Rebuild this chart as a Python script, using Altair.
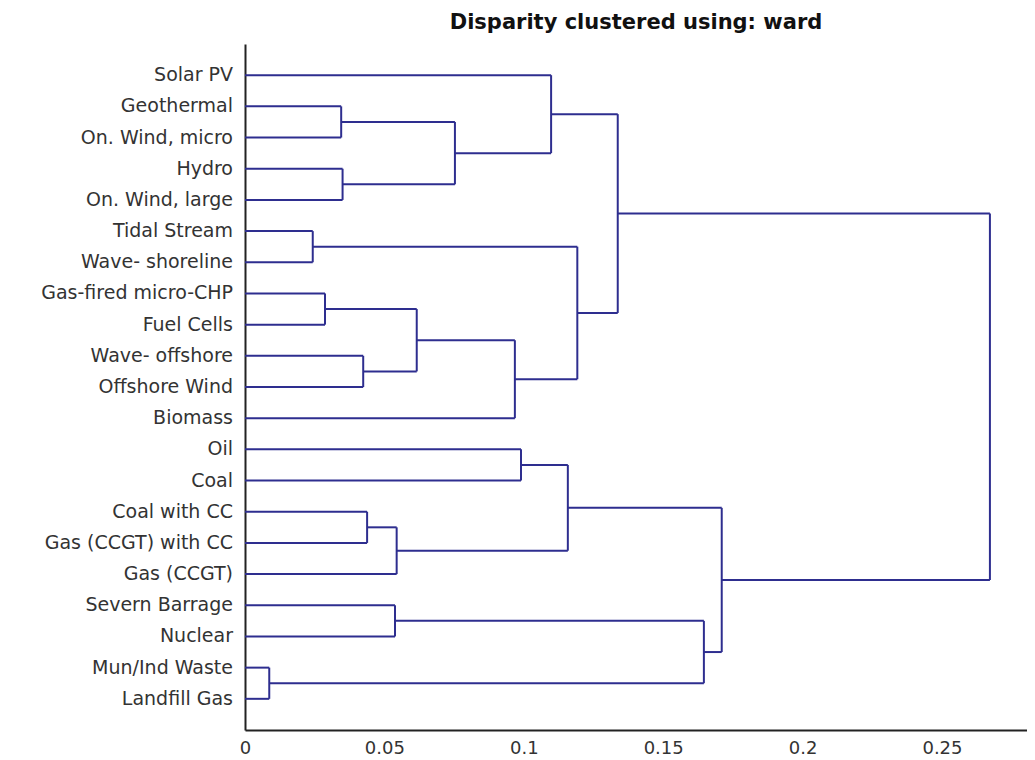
import altair as alt
import pandas as pd

# Leaves (top to bottom)
leaves = [
    "Solar PV", "Geothermal", "On. Wind, micro", "Hydro", "On. Wind, large",
    "Tidal Stream", "Wave- shoreline", "Gas-fired micro-CHP", "Fuel Cells",
    "Wave- offshore", "Offshore Wind", "Biomass", "Oil", "Coal", "Coal with CC",
    "Gas (CCGT) with CC", "Gas (CCGT)", "Severn Barrage", "Nuclear",
    "Mun/Ind Waste", "Landfill Gas",
]

# Node ids 0..20 are leaves, 21.. are merges in this order:
# 21 Geo+OnWm, 22 Hydro+OnWl, 23 21+22, 24 Solar+23, 25 Tidal+Wave, 26 Gas+Fuel,
# 27 WaveOff+OffWind, 28 26+27, 29 28+Biomass, 30 25+29, 31 24+30,
# 32 Oil+Coal, 33 CoalCC+GasCC, 34 33+GasCCGT, 35 32+34, 36 Severn+Nuclear,
# 37 Mun+Landfill, 38 36+37, 39 35+38, 40 31+39
merge_left = [1, 3, 21, 0, 5, 7, 9, 26, 28, 25, 24,
              12, 14, 33, 32, 17, 19, 36, 35, 31]
merge_right = [2, 4, 22, 23, 6, 8, 10, 27, 11, 29, 30,
               13, 15, 16, 34, 18, 20, 37, 38, 39]
merge_height = [0.0345, 0.0350, 0.0753, 0.1098, 0.0243, 0.0287, 0.0424, 0.0616,
                0.0968, 0.1192, 0.1337,
                0.0990, 0.0438, 0.0544, 0.1158, 0.0538, 0.0087, 0.1646, 0.1710,
                0.2672]

x_ticks = [0, 0.05, 0.1, 0.15, 0.2, 0.25]

n = len(leaves)
pos = {i: i + 1 for i in range(n)}
hgt = {i: 0.0 for i in range(n)}
segs = []
for k, (a, b, h) in enumerate(zip(merge_left, merge_right, merge_height)):
    nid = n + k
    pos[nid] = (pos[a] + pos[b]) / 2
    hgt[nid] = h
    segs.append({"x": h, "x2": h, "y": pos[a], "y2": pos[b]})
    for c in (a, b):
        segs.append({"x": hgt[c], "x2": h, "y": pos[c], "y2": pos[c]})

seg_df = pd.DataFrame(segs)
lab_df = pd.DataFrame({"name": leaves, "y": [pos[i] for i in range(n)]})

xscale = alt.Scale(domain=[0, 0.2805], nice=False, zero=False)
yscale = alt.Scale(domain=[0, n + 1], nice=False, reverse=True)

lines = alt.Chart(seg_df).mark_rule(color="#2e2e8f", strokeWidth=2).encode(
    x=alt.X("x:Q", scale=xscale,
            axis=alt.Axis(values=x_ticks, format="~g", ticks=False, grid=False,
                          title=None, labelFont="DejaVu Sans", labelFontSize=18,
                          labelColor="#333", labelPadding=9,
                          domainColor="#222", domainWidth=2,
                          labelFlush=False)),
    x2="x2:Q",
    y=alt.Y("y:Q", scale=yscale,
            axis=alt.Axis(labels=False, ticks=False, grid=False, title=None,
                          domainColor="#222", domainWidth=2)),
    y2="y2:Q",
)

labels = alt.Chart(lab_df).mark_text(
    align="right", baseline="middle", font="DejaVu Sans", fontSize=19,
    color="#333"
).encode(
    x=alt.value(-12),
    y=alt.Y("y:Q", scale=yscale),
    text="name:N",
)

chart = alt.layer(lines, labels).properties(
    width=782, height=686,
    title=alt.TitleParams("Disparity clustered using: ward", font="DejaVu Sans",
                          fontSize=21, fontWeight="bold", color="#111",
                          anchor="middle", offset=11),
    autosize=alt.AutoSizeParams(type="none"),
    padding={"left": 237, "top": 36, "right": 0, "bottom": 28},
    background="white",
).configure_view(stroke=None)

chart.save("out.html", embed_options={"renderer": "svg", "actions": False})
